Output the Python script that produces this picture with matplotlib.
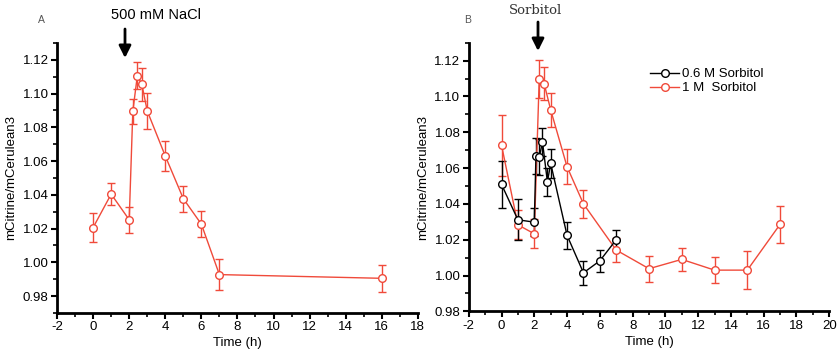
import matplotlib
matplotlib.use("Agg")
import matplotlib.pyplot as plt
from matplotlib.ticker import MultipleLocator
from matplotlib.lines import Line2D

plt.rcParams['font.family'] = ['Liberation Sans', 'DejaVu Sans']
plt.rcParams['axes.unicode_minus'] = False

# panel A: 500 mM NaCl
a_t = [0, 1, 2, 2.2, 2.45, 2.7, 3, 4, 5, 6, 7, 16]
a_y = [1.0206, 1.0404, 1.0252, 1.0895, 1.1105, 1.1055, 1.0897, 1.063, 1.0377, 1.0226, 0.9927, 0.9905]
a_err = [0.0085, 0.0067, 0.0077, 0.0075, 0.008, 0.0098, 0.0105, 0.009, 0.0077, 0.0077, 0.0093, 0.008]

# panel B: 0.6 M sorbitol
b06_t = [0, 1, 2, 2.1, 2.3, 2.5, 2.8, 3, 4, 5, 6, 7]
b06_y = [1.0509, 1.0311, 1.0298, 1.0666, 1.066, 1.0745, 1.0523, 1.0626, 1.0224, 1.0015, 1.0082, 1.020]
b06_err = [0.013, 0.0115, 0.008, 0.01, 0.01, 0.008, 0.008, 0.008, 0.0077, 0.0068, 0.006, 0.0055]

# panel B: 1 M sorbitol
b1_t = [0, 1, 2, 2.3, 2.6, 3, 4, 5, 7, 9, 11, 13, 15, 17]
b1_y = [1.0728, 1.0283, 1.0233, 1.1096, 1.1072, 1.0925, 1.0607, 1.0400, 1.0142, 1.0038, 1.009, 1.003, 1.003, 1.0286]
b1_err = [0.017, 0.008, 0.008, 0.0105, 0.009, 0.0095, 0.0098, 0.0077, 0.0065, 0.0072, 0.0064, 0.0072, 0.0107, 0.0103]

red = '#f04a3a'
W, H = 839, 358

fig = plt.figure(figsize=(8.39, 3.58), dpi=100)
axA = fig.add_axes([0.068, 0.126, 0.430, 0.754])
axB = fig.add_axes([0.5587, 0.1304, 0.4297, 0.7503])


def style_axis(ax, xlim, ylim):
    ax.set_xlim(*xlim)
    ax.set_ylim(*ylim)
    ax.spines['top'].set_visible(False)
    ax.spines['right'].set_visible(False)
    ax.spines['left'].set_linewidth(2)
    ax.spines['bottom'].set_linewidth(2)
    ax.xaxis.set_major_locator(MultipleLocator(2))
    ax.xaxis.set_minor_locator(MultipleLocator(1))
    ax.yaxis.set_major_locator(MultipleLocator(0.02))
    ax.yaxis.set_minor_locator(MultipleLocator(0.01))
    ax.yaxis.set_major_formatter(plt.FuncFormatter(lambda v, p: '%.2f' % v))
    ax.tick_params(which='major', direction='out', length=4, width=1.5, labelsize=9.5, pad=2)
    ax.tick_params(which='minor', direction='out', length=3, width=1.2)
    ax.set_xlabel('Time (h)', fontsize=9.5, labelpad=3)
    ax.set_ylabel('mCitrine/mCerulean3', fontsize=9.5, labelpad=4)


def draw(ax, t, y, err, color):
    ax.errorbar(t, y, yerr=err, color=color, lw=1, elinewidth=1, capsize=3, capthick=1,
                marker='o', ms=5.5, mfc='white', mec=color, mew=1, zorder=3)


draw(axA, a_t, a_y, a_err, red)
style_axis(axA, (-2, 18), (0.97, 1.13))

draw(axB, b1_t, b1_y, b1_err, red)
draw(axB, b06_t, b06_y, b06_err, 'black')
style_axis(axB, (-2, 20), (0.98, 1.13))

handles = [Line2D([], [], color=c, lw=1, marker='o', ms=5.5, mfc='white', mec=c, mew=1)
           for c in ['black', red]]
axB.legend(handles, ['0.6 M Sorbitol', '1 M  Sorbitol'], loc='upper left',
           bbox_to_anchor=(0.47, 0.95), frameon=False, fontsize=9.5,
           handlelength=2.2, handletextpad=0.2, labelspacing=0.15)

# panel letters, treatment labels and arrows (figure pixel positions)
fig.text(41 / W, 1 - 20 / H, 'A', fontsize=7.5, color='#555555', ha='center', va='center')
fig.text(468 / W, 1 - 20 / H, 'B', fontsize=7.5, color='#555555', ha='center', va='center')
fig.text(156 / W, 1 - 15 / H, '500 mM NaCl', fontsize=10.5, ha='center', va='center')
fig.text(536 / W, 1 - 11 / H, 'Sorbitol', fontsize=9.5, family='DejaVu Serif',
         color='#333333', ha='center', va='center')

for x, y0, y1 in [(125, 29, 58), (538, 22, 51)]:
    fig.add_artist(matplotlib.patches.FancyArrowPatch(
        (x / W, 1 - y0 / H), (x / W, 1 - y1 / H), transform=fig.transFigure,
        arrowstyle='-|>,head_length=0.6,head_width=0.3', mutation_scale=12,
        lw=2, color='black', shrinkA=0, shrinkB=0))

fig.savefig('out.png', dpi=100)
